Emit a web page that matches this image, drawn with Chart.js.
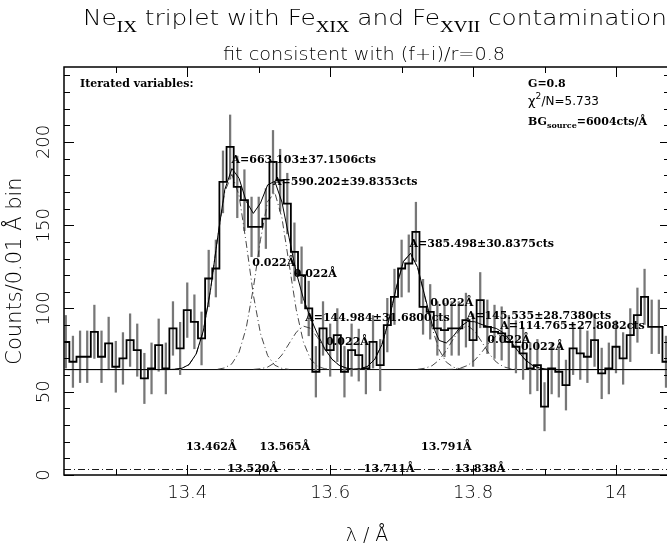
<!DOCTYPE html>
<html>
<head>
<meta charset="utf-8">
<script src="https://cdn.jsdelivr.net/npm/chart.js@4.4.1/dist/chart.umd.min.js"></script>
<style>
  html, body { margin: 0; padding: 0; background: #fff; overflow: hidden; }
  #wrap { position: relative; width: 670px; height: 550px; }
</style>
</head>
<body>
<div id="wrap"><canvas id="myChart"></canvas></div>
<script>
// 0.01 A data bins; the first one is cut by the left edge of the plot
const binStart = 13.225;
const binWidth = 0.01;
// the model is evaluated on its own 0.01 A grid
const modelStart = 13.2325;

const counts = [
  80, 68, 71, 71, 86, 71, 79, 65, 70, 81,
  75, 58, 64, 78, 64, 88, 76, 99, 92, 82,
  118, 124, 176, 197, 173, 165, 149, 149, 154, 188,
  177, 163, 134, 120, 100, 62, 88, 75, 84, 62,
  75, 72, 64, 80, 66, 90, 107, 124, 127, 146,
  101, 98, 88, 87, 88, 88, 93, 81, 105, 89,
  86, 85, 80, 77, 73, 64, 66, 41, 64, 62,
  54, 76, 73, 71, 81, 61, 64, 77, 70, 84,
  96, 107, 89, 89, 68
];

const countErrors = [
  15.8, 15.4, 15.5, 15.5, 16.0, 15.5, 15.8, 15.3, 15.5, 15.8,
  15.7, 15.1, 15.3, 15.7, 15.3, 16.1, 15.7, 16.4, 16.2, 15.9,
  17.0, 17.1, 18.6, 19.2, 18.5, 18.3, 17.9, 17.9, 18.0, 18.9,
  18.6, 18.2, 17.4, 17.0, 16.4, 15.2, 16.1, 15.7, 15.9, 15.2,
  15.7, 15.6, 15.3, 15.8, 15.4, 16.1, 16.6, 17.1, 17.2, 17.8,
  16.5, 16.4, 16.1, 16.0, 16.1, 16.1, 16.2, 15.8, 16.6, 16.1,
  16.0, 16.0, 15.8, 15.7, 15.6, 15.3, 15.4, 14.5, 15.3, 15.2,
  15.0, 15.7, 15.6, 15.5, 15.8, 15.2, 15.3, 15.7, 15.5, 15.9,
  16.3, 16.6, 16.1, 16.1, 15.4
];

// total fit, one value per model bin
const fitModel = [
  63.3, 63.3, 63.3, 63.3, 63.3, 63.3, 63.3, 63.3, 63.3, 63.3,
  63.3, 63.3, 63.3, 63.3, 63.3, 63.5, 64.1, 66.3, 72.7, 86.6,
  111.0, 142.6, 171.4, 184.0, 178.2, 164.3, 157.1, 163.3, 174.2, 176.4,
  163.9, 142.5, 121.7, 106.0, 94.3, 84.4, 75.8, 69.6, 65.9, 64.2,
  63.6, 63.8, 65.3, 69.5, 78.4, 93.5, 112.4, 128.2, 133.1, 124.5,
  107.5, 90.7, 80.8, 79.3, 83.4, 89.1, 92.2, 92.0, 90.3, 89.0,
  88.0, 85.4, 80.5, 74.6, 69.4, 66.0, 64.3, 63.6, 63.3, 63.3,
  63.3, 63.3, 63.3, 63.3, 63.3, 63.3, 63.3, 63.3, 63.3, 63.3,
  63.3, 63.3, 63.3, 63.3, 63.3
];

const bgLevel = 63.3;
const bgFloor = 3.3;

const lineCenters = [13.462, 13.520, 13.565, 13.711, 13.791, 13.838];
const lineAmps = ['663.103±37.1506', '590.202±39.8353', '144.984±31.6800',
                  '385.498±30.8375', '145.535±28.7380', '114.765±27.8082'];
const lineWidthLabel = '0.022Å';

// single line components (incl. background), first model bin of each
const compFirstBin = [15, 21, 26, 40, 49, 53];
const compValues = [
  [63.5, 64.1, 66.3, 72.7, 86.6, 111.0, 142.4, 170.1, 180.5, 167.8, 139.3, 108.1, 84.9, 71.7, 65.9, 64.0, 63.4],
  [63.5, 64.3, 66.8, 73.7, 88.3, 112.3, 141.3, 164.3, 169.6, 154.4, 126.8, 99.3, 79.9, 69.5, 65.2, 63.8, 63.4],
  [63.4, 63.8, 64.8, 67.4, 72.1, 78.9, 85.7, 89.4, 88.1, 82.5, 75.3, 69.5, 65.9, 64.2, 63.5],
  [63.4, 63.8, 65.3, 69.5, 78.4, 93.5, 112.4, 128.2, 133.1, 124.3, 106.7, 88.4, 75.1, 67.8, 64.7, 63.7, 63.4],
  [63.5, 64.1, 65.6, 69.0, 74.7, 81.8, 87.8, 89.6, 86.3, 79.7, 72.8, 67.8, 65.0, 63.8, 63.4],
  [63.4, 63.5, 64.2, 65.8, 69.0, 73.9, 79.5, 83.5, 83.7, 80.0, 74.5, 69.4, 66.0, 64.3, 63.6, 63.4]
];

const xMajorTicks = [13.4, 13.6, 13.8, 14.0];
const xMinorTicks = [13.3, 13.5, 13.7, 13.9];
const yMajorTicks = [0, 50, 100, 150, 200];

const xMin = 13.2275, xMax = 14.0756;
const yMin = 0, yMax = 245;

// label placement (data units)
const ampLabelY = [189.2, 176.1, 94.1, 138.7, 95.1, 89.5];
const widthLabelY = [127.1, 120.7, 80.0, 103.1, 81.1, 77.0];
const centerLabelY = [17, 3.6, 17, 3.6, 17, 3.6];

const binCenter = i => binStart + (i + 0.5) * binWidth;
const modelX = i => modelStart + i * binWidth;

const histData = counts.map((c, i) => ({ x: binStart + i * binWidth, y: c }));
histData.push({ x: binStart + counts.length * binWidth, y: counts[counts.length - 1] });

const thin = "'DejaVu Sans', sans-serif";
const labelFont = 'bold 11px "DejaVu Serif", serif';
const dashDot = [7, 3, 1, 3];

const datasets = [
  {
    label: 'data',
    data: histData,
    stepped: true,
    borderColor: '#000',
    borderWidth: 1.8,
    pointRadius: 0,
    fill: false,
    order: 1,
  },
  {
    label: 'fit',
    data: fitModel.map((v, i) => ({ x: modelX(i), y: v })),
    borderColor: '#000',
    borderWidth: 1,
    pointRadius: 0,
    tension: 0,
    order: 2,
  },
];

compValues.forEach((vals, j) => {
  datasets.push({
    label: 'line ' + lineCenters[j],
    data: vals.map((v, m) => ({ x: modelX(compFirstBin[j] + m), y: v })),
    borderColor: '#333',
    borderWidth: 0.9,
    borderDash: dashDot,
    pointRadius: 0,
    tension: 0,
    order: 3,
  });
});

datasets.push(
  {
    label: 'background',
    data: [{ x: xMin, y: bgLevel }, { x: xMax, y: bgLevel }],
    borderColor: '#000',
    borderWidth: 1,
    pointRadius: 0,
    order: 5,
  },
  {
    label: 'floor',
    data: [{ x: xMin, y: bgFloor }, { x: xMax, y: bgFloor }],
    borderColor: '#000',
    borderWidth: 0.9,
    borderDash: dashDot,
    pointRadius: 0,
    order: 5,
  },
  {
    type: 'bar',
    label: 'errors',
    data: counts.map((c, i) => ({ x: binCenter(i), y: [c - countErrors[i], c + countErrors[i]] })),
    backgroundColor: '#777',
    barThickness: 1.6,
    grouped: false,
    order: 4,
  }
);

function subText(ctx, parts, x, y, bigFont, smallFont, drop) {
  let cx = x;
  parts.forEach(([t, sub]) => {
    ctx.font = sub ? smallFont : bigFont;
    ctx.fillText(t, cx, y + (sub ? drop : 0));
    cx += ctx.measureText(t).width;
  });
  return cx - x;
}

function measureParts(ctx, parts, bigFont, smallFont) {
  return parts.reduce((w, [t, sub]) => {
    ctx.font = sub ? smallFont : bigFont;
    return w + ctx.measureText(t).width;
  }, 0);
}

// text stretched horizontally to the wide plotter font of the original
function stretchedText(ctx, parts, x, y, width, bigFont, smallFont, drop) {
  const w = measureParts(ctx, parts, bigFont, smallFont);
  ctx.save();
  ctx.translate(x, y);
  ctx.scale(width / w, 1);
  subText(ctx, parts, 0, 0, bigFont, smallFont, drop);
  ctx.restore();
}

const titleParts = [['Ne', 0], ['IX', 1], [' triplet with Fe', 0], ['XIX', 1],
                    [' and Fe', 0], ['XVII', 1], [' contamination', 0]];

const decorations = {
  id: 'decorations',
  afterDatasetsDraw(chart) {
    const { ctx, chartArea: a, scales: { x, y } } = chart;
    ctx.save();
    ctx.fillStyle = '#000';
    ctx.strokeStyle = '#000';

    // frame
    ctx.lineWidth = 1.5;
    ctx.strokeRect(a.left, a.top, a.right - a.left, a.bottom - a.top);

    // inward ticks
    ctx.lineWidth = 1;
    ctx.beginPath();
    for (let v = 0; v <= yMax; v += 10) {
      const py = Math.round(y.getPixelForValue(v)) + 0.5;
      const len = yMajorTicks.includes(v) ? 10 : 6;
      ctx.moveTo(a.left, py); ctx.lineTo(a.left + len, py);
      ctx.moveTo(a.right, py); ctx.lineTo(a.right - len, py);
    }
    xMajorTicks.concat(xMinorTicks).forEach(v => {
      const px = Math.round(x.getPixelForValue(v)) + 0.5;
      const len = xMajorTicks.includes(v) ? 10 : 6;
      ctx.moveTo(px, a.bottom); ctx.lineTo(px, a.bottom - len);
      ctx.moveTo(px, a.top); ctx.lineTo(px, a.top + len);
    });
    ctx.stroke();

    // rotated y tick labels
    ctx.font = '200 18px ' + thin;
    ctx.textAlign = 'center';
    ctx.textBaseline = 'middle';
    yMajorTicks.forEach(v => {
      ctx.save();
      ctx.translate(44, y.getPixelForValue(v));
      ctx.rotate(-Math.PI / 2);
      ctx.fillText(String(v), 0, 0);
      ctx.restore();
    });

    // titles
    ctx.textAlign = 'left';
    ctx.textBaseline = 'alphabetic';
    stretchedText(ctx, titleParts, 83, 25, 584, '200 21px ' + thin, '16px "Liberation Serif", serif', 7);
    stretchedText(ctx, [['fit consistent with (f+i)/r=0.8', 0]], 223, 60, 282, '200 17px ' + thin, '', 0);

    // fit parameters
    ctx.textBaseline = 'middle';
    ctx.font = labelFont;
    ctx.fillText('Iterated variables:', 80, 84);
    ctx.fillText('G=0.8', 528, 84);
    ctx.font = '13px ' + thin;
    const chiW = ctx.measureText('χ').width;
    ctx.fillText('χ', 528, 102);
    ctx.font = '9px ' + thin;
    ctx.fillText('2', 528 + chiW, 97);
    ctx.font = '12px ' + thin;
    ctx.fillText('/N=5.733', 528 + chiW + 6, 102);
    subText(ctx, [['BG', 0], ['source', 1], ['=6004cts/Å', 0]], 528, 122,
            labelFont, 'bold 8px "DejaVu Serif", serif', 4);

    // line labels
    ctx.font = labelFont;
    lineCenters.forEach((c, j) => {
      const px = x.getPixelForValue(c);
      ctx.textAlign = 'left';
      ctx.fillText('A=' + lineAmps[j] + 'cts', px, y.getPixelForValue(ampLabelY[j]));
      ctx.fillText(lineWidthLabel, x.getPixelForValue(c + 0.029), y.getPixelForValue(widthLabelY[j]));
      ctx.textAlign = 'right';
      ctx.fillText(c.toFixed(3) + 'Å', px + 5, y.getPixelForValue(centerLabelY[j]));
    });
    ctx.restore();
  }
};

new Chart(document.getElementById('myChart'), {
  type: 'line',
  data: { datasets },
  options: {
    responsive: true,
    maintainAspectRatio: false,
    animation: false,
    devicePixelRatio: 1,
    layout: { padding: { top: 67, left: 0, right: 0, bottom: 0 } },
    plugins: { legend: { display: false }, tooltip: { enabled: false } },
    scales: {
      x: {
        type: 'linear',
        min: xMin,
        max: xMax,
        offset: false,
        afterBuildTicks: s => { s.ticks = xMajorTicks.map(v => ({ value: v })); },
        afterFit: s => { s.height = 75; },
        grid: { display: false, drawTicks: false },
        border: { display: false },
        ticks: {
          color: '#000',
          padding: 8,
          maxRotation: 0,
          font: { family: thin, size: 18, weight: '200' },
          callback: v => String(+v.toFixed(1)),
        },
        title: {
          display: true,
          text: 'λ / Å',
          color: '#000',
          font: { family: thin, size: 19, weight: '200' },
          padding: { top: 0, bottom: 3 },
        },
      },
      y: {
        type: 'linear',
        min: yMin,
        max: yMax,
        afterFit: s => { s.width = 64; },
        grid: { display: false, drawTicks: false },
        border: { display: false },
        ticks: { display: false },
        title: {
          display: true,
          text: 'Counts/0.01 Å bin',
          color: '#000',
          font: { family: thin, size: 21, weight: '200' },
          padding: { top: 3, bottom: 0 },
        },
      },
    },
  },
  plugins: [decorations],
});
</script>
